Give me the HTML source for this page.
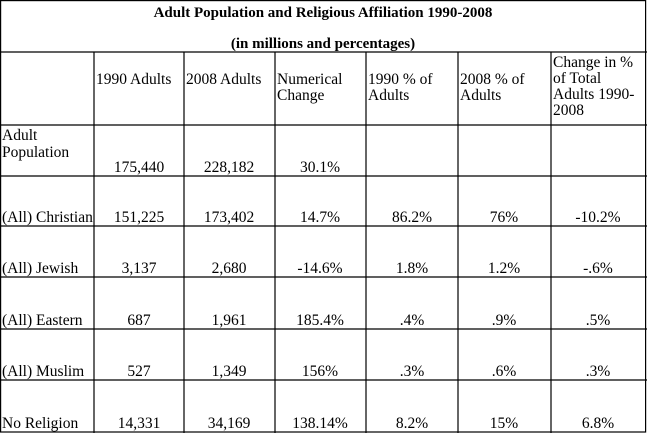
<!DOCTYPE html>
<html><head><meta charset="utf-8"><style>
html,body{margin:0;padding:0;background:#fff;}
svg{display:block;font-family:"Liberation Serif",serif;font-size:15.5px;fill:#000;}
</style></head><body>
<svg width="647" height="433" viewBox="0 0 647 433">
<g stroke="#000" stroke-width="1.2" fill="none">
<rect x="0.6" y="0.6" width="645" height="431.4"/>
<line x1="0" y1="52" x2="647" y2="52"/>
<line x1="0" y1="125" x2="647" y2="125"/>
<line x1="0" y1="176" x2="647" y2="176"/>
<line x1="0" y1="226" x2="647" y2="226"/>
<line x1="0" y1="277" x2="647" y2="277"/>
<line x1="0" y1="329" x2="647" y2="329"/>
<line x1="0" y1="380" x2="647" y2="380"/>
<line x1="94" y1="52" x2="94" y2="433"/>
<line x1="184" y1="52" x2="184" y2="433"/>
<line x1="275" y1="52" x2="275" y2="433"/>
<line x1="366" y1="52" x2="366" y2="433"/>
<line x1="458" y1="52" x2="458" y2="433"/>
<line x1="551" y1="52" x2="551" y2="433"/>
</g>
<g font-weight="bold" text-anchor="middle" font-size="15">
<text x="323" y="17">Adult Population and Religious Affiliation 1990-2008</text>
<text x="323" y="48">(in millions and percentages)</text>
</g>
<text x="96" y="84">1990 Adults</text>
<text x="186" y="84">2008 Adults</text>
<text x="277" y="84">Numerical</text>
<text x="277" y="100">Change</text>
<text x="368" y="84">1990 % of</text>
<text x="368" y="100">Adults</text>
<text x="460" y="84">2008 % of</text>
<text x="460" y="100">Adults</text>
<text x="553" y="67">Change in %</text>
<text x="553" y="83">of Total</text>
<text x="553" y="99">Adults 1990-</text>
<text x="553" y="115">2008</text>
<text x="2" y="140">Adult</text>
<text x="2" y="157">Population</text>
<text x="2" y="222">(All) Christian</text>
<text x="2" y="273">(All) Jewish</text>
<text x="2" y="325">(All) Eastern</text>
<text x="2" y="376">(All) Muslim</text>
<text x="2" y="428">No Religion</text>
<g text-anchor="middle">
<text x="139" y="172">175,440</text><text x="229" y="172">228,182</text><text x="320" y="172">30.1%</text>
<text x="139" y="222">151,225</text><text x="229" y="222">173,402</text><text x="320" y="222">14.7%</text><text x="412" y="222">86.2%</text><text x="504" y="222">76%</text><text x="598" y="222">-10.2%</text>
<text x="139" y="273">3,137</text><text x="229" y="273">2,680</text><text x="320" y="273">-14.6%</text><text x="412" y="273">1.8%</text><text x="504" y="273">1.2%</text><text x="598" y="273">-.6%</text>
<text x="139" y="325">687</text><text x="229" y="325">1,961</text><text x="320" y="325">185.4%</text><text x="412" y="325">.4%</text><text x="504" y="325">.9%</text><text x="598" y="325">.5%</text>
<text x="139" y="376">527</text><text x="229" y="376">1,349</text><text x="320" y="376">156%</text><text x="412" y="376">.3%</text><text x="504" y="376">.6%</text><text x="598" y="376">.3%</text>
<text x="139" y="428">14,331</text><text x="229" y="428">34,169</text><text x="320" y="428">138.14%</text><text x="412" y="428">8.2%</text><text x="504" y="428">15%</text><text x="598" y="428">6.8%</text>
</g>
</svg>
</body></html>
